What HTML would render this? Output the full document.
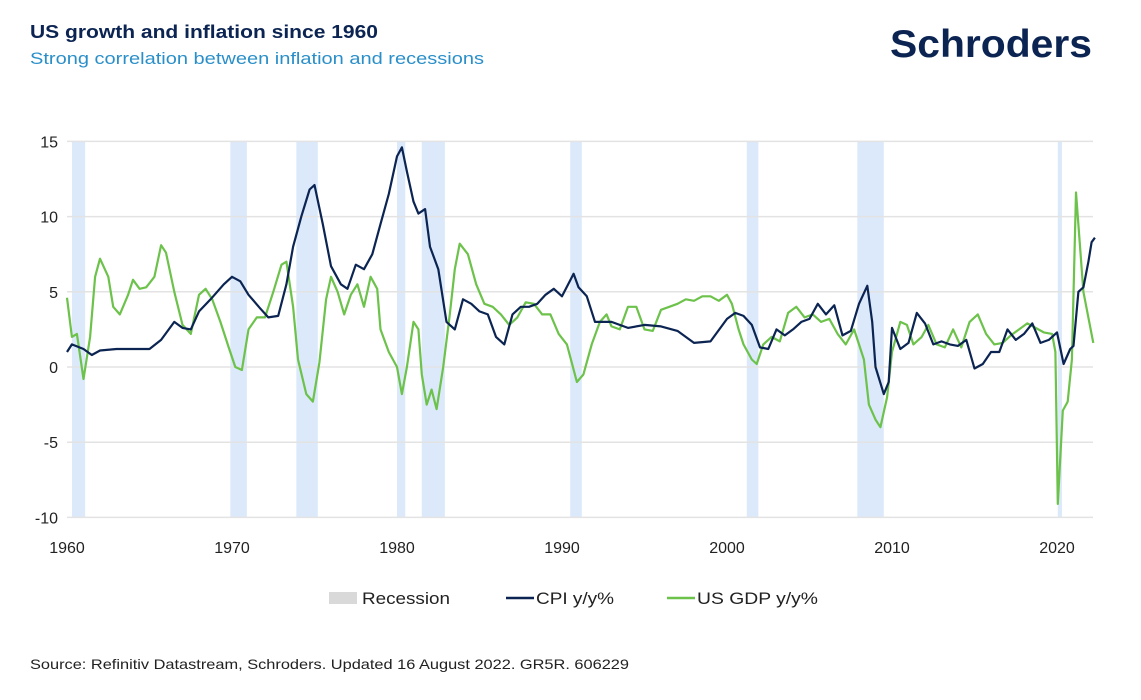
<!DOCTYPE html>
<html><head><meta charset="utf-8"><style>
body{margin:0;background:#fff;font-family:"Liberation Sans",sans-serif;}
svg text{font-family:"Liberation Sans",sans-serif;}
</style></head><body>
<svg id="chart" width="1141" height="695" viewBox="0 0 1141 695" xmlns="http://www.w3.org/2000/svg">
<text x="30" y="38" font-size="18" font-weight="bold" fill="#0b2452" textLength="348" lengthAdjust="spacingAndGlyphs">US growth and inflation since 1960</text>
<text x="30" y="64" font-size="17" fill="#2a8fc9" textLength="454" lengthAdjust="spacingAndGlyphs">Strong correlation between inflation and recessions</text>
<text x="890" y="57" font-size="39" font-weight="bold" fill="#0b2452" textLength="202" lengthAdjust="spacingAndGlyphs">Schroders</text>
<g id="bands"></g><g id="grid"></g><g id="lines"></g><g id="axes"></g>
<g>
<rect x="329" y="592" width="28" height="12" fill="#d9d9d9"/>
<text x="362" y="604" font-size="17" fill="#222" textLength="88" lengthAdjust="spacingAndGlyphs">Recession</text>
<line x1="506" y1="598" x2="534" y2="598" stroke="#0b2452" stroke-width="2.5"/>
<text x="536" y="604" font-size="17" fill="#222" textLength="78" lengthAdjust="spacingAndGlyphs">CPI y/y%</text>
<line x1="667" y1="598" x2="695" y2="598" stroke="#6cc24a" stroke-width="2.5"/>
<text x="697" y="604" font-size="17" fill="#222" textLength="121" lengthAdjust="spacingAndGlyphs">US GDP y/y%</text>
</g>
<text x="30" y="669" font-size="14" fill="#222" textLength="599" lengthAdjust="spacingAndGlyphs">Source: Refinitiv Datastream, Schroders. Updated 16 August 2022. GR5R. 606229</text>
</svg>
<script>
const recStart=[1960.3,1969.9,1973.9,1980.0,1981.5,1990.5,2001.2,2007.9,2020.05];
const recEnd=[1961.1,1970.9,1975.2,1980.5,1982.9,1991.2,2001.9,2009.5,2020.3];
const yTicks=[15,10,5,0,-5,-10];
const xTicks=[1960,1970,1980,1990,2000,2010,2020];
const cpiYears=[1960,1960.3,1961,1961.5,1962,1963,1964,1965,1965.7,1966.5,1967,1967.5,1968,1968.7,1969.5,1970,1970.5,1971,1971.7,1972.2,1972.8,1973.3,1973.7,1974.2,1974.7,1975.0,1975.5,1976,1976.6,1977,1977.5,1978,1978.5,1979,1979.5,1980,1980.3,1980.6,1981,1981.3,1981.7,1982,1982.5,1983,1983.5,1984,1984.5,1985,1985.5,1986,1986.5,1987,1987.5,1988,1988.5,1989,1989.5,1990,1990.7,1991,1991.5,1992,1993,1994,1995,1996,1997,1998,1999,2000,2000.5,2001,2001.5,2002,2002.5,2003,2003.5,2004,2004.5,2005,2005.5,2006,2006.5,2007,2007.5,2008,2008.5,2008.8,2009,2009.5,2009.8,2010,2010.5,2011,2011.5,2012,2012.5,2013,2013.5,2014,2014.5,2015,2015.5,2016,2016.5,2017,2017.5,2018,2018.5,2019,2019.5,2020,2020.4,2020.8,2021,2021.3,2021.6,2021.9,2022.1,2022.3];
const cpiVals=[1.0,1.5,1.2,0.8,1.1,1.2,1.2,1.2,1.8,3.0,2.6,2.5,3.7,4.5,5.5,6.0,5.7,4.8,3.9,3.3,3.4,5.5,8.0,10.0,11.8,12.1,9.5,6.7,5.5,5.2,6.8,6.5,7.5,9.5,11.5,14.0,14.6,13.0,11.0,10.2,10.5,8.0,6.5,3.0,2.5,4.5,4.2,3.7,3.5,2.0,1.5,3.5,4.0,4.0,4.2,4.8,5.2,4.7,6.2,5.3,4.7,3.0,3.0,2.6,2.8,2.7,2.4,1.6,1.7,3.2,3.6,3.4,2.8,1.3,1.2,2.5,2.1,2.5,3.0,3.2,4.2,3.5,4.1,2.1,2.4,4.2,5.4,3.0,0.0,-1.8,-1.0,2.6,1.2,1.6,3.6,2.9,1.5,1.7,1.5,1.4,1.8,-0.1,0.2,1.0,1.0,2.5,1.8,2.2,2.9,1.6,1.8,2.3,0.2,1.2,1.4,5.0,5.3,7.0,8.3,8.6];
const gdpYears=[1960,1960.3,1960.6,1961,1961.4,1961.7,1962,1962.5,1962.8,1963.2,1963.7,1964,1964.4,1964.8,1965.3,1965.7,1966,1966.5,1967,1967.5,1968,1968.4,1968.8,1969.3,1969.8,1970.2,1970.6,1971,1971.5,1972,1972.5,1973,1973.3,1973.7,1974,1974.5,1974.9,1975.3,1975.7,1976,1976.4,1976.8,1977.2,1977.6,1978,1978.4,1978.8,1979,1979.5,1980,1980.3,1980.6,1981,1981.3,1981.5,1981.8,1982.1,1982.4,1982.8,1983.2,1983.5,1983.8,1984.3,1984.8,1985.3,1985.8,1986.3,1986.8,1987.3,1987.8,1988.3,1988.8,1989.3,1989.8,1990.3,1990.9,1991.3,1991.8,1992.3,1992.7,1993,1993.5,1994,1994.5,1995,1995.5,1996,1996.5,1997,1997.5,1998,1998.5,1999,1999.5,2000,2000.3,2000.7,2001,2001.5,2001.8,2002.2,2002.7,2003.2,2003.7,2004.2,2004.7,2005.2,2005.7,2006.2,2006.7,2007.2,2007.7,2008,2008.3,2008.6,2009,2009.3,2009.7,2010,2010.5,2010.9,2011.3,2011.8,2012.2,2012.7,2013.2,2013.7,2014.2,2014.7,2015.2,2015.7,2016.2,2016.7,2017.2,2017.7,2018.2,2018.7,2019.2,2019.7,2019.9,2020.05,2020.35,2020.65,2020.9,2021.15,2021.6,2022.2];
const gdpVals=[4.6,2.0,2.2,-0.8,2.0,6.0,7.2,6.0,4.0,3.5,4.8,5.8,5.2,5.3,6.0,8.1,7.6,5.0,2.8,2.2,4.8,5.2,4.5,3.0,1.3,0.0,-0.2,2.5,3.3,3.3,5.0,6.8,7.0,4.0,0.5,-1.8,-2.3,0.3,4.5,6.0,5.0,3.5,4.8,5.5,4.0,6.0,5.2,2.5,1.0,0.0,-1.8,0.0,3.0,2.5,-0.5,-2.5,-1.5,-2.8,0.0,3.5,6.5,8.2,7.5,5.5,4.2,4.0,3.5,2.8,3.3,4.3,4.2,3.5,3.5,2.2,1.5,-1.0,-0.5,1.5,3.0,3.5,2.7,2.5,4.0,4.0,2.5,2.4,3.8,4.0,4.2,4.5,4.4,4.7,4.7,4.4,4.8,4.2,2.5,1.5,0.5,0.2,1.5,2.0,1.7,3.6,4.0,3.3,3.5,3.0,3.2,2.2,1.5,2.5,1.5,0.5,-2.5,-3.5,-4.0,-2.0,1.0,3.0,2.8,1.5,2.0,2.8,1.5,1.3,2.5,1.3,3.0,3.5,2.2,1.5,1.6,2.1,2.5,2.9,2.6,2.3,2.2,1.0,-9.1,-2.9,-2.3,0.5,11.6,5.0,1.6];

const NS='http://www.w3.org/2000/svg';
const X=yr=>67+(yr-1960)*16.5;
const Y=v=>367-v*15.04;
const left=67,right=1093;
function mk(tag,attrs,parent){const e=document.createElementNS(NS,tag);for(const k in attrs)e.setAttribute(k,attrs[k]);document.getElementById(parent).appendChild(e);return e;}
recStart.forEach((s,i)=>{
  const r=mk('rect',{x:X(s),y:Y(15),width:X(recEnd[i])-X(s),height:Y(-10)-Y(15),fill:'#dbe9fa'},'bands');
  
  
});
yTicks.forEach(t=>{
  const l=mk('line',{x1:left,x2:right,y1:Y(t),y2:Y(t),stroke:'#e3e3e3','stroke-width':1.5},'grid');
  
  
  const tx=mk('text',{x:58,y:Y(t)+6,'font-size':16,fill:'#222','text-anchor':'end'},'axes');
  tx.textContent=t;
  
  
});
xTicks.forEach(t=>{
  const tx=mk('text',{x:X(t),y:553,'font-size':16,fill:'#222','text-anchor':'middle'},'axes');
  tx.textContent=t;
  
  
});
function line(xs,vs,color,name){
  const d=xs.map((x,i)=>(i?'L':'M')+X(x).toFixed(1)+','+Y(vs[i]).toFixed(1)).join('');
  const p=mk('path',{d:d,fill:'none',stroke:color,'stroke-width':2.2,'stroke-linejoin':'round'},'lines');
  
  
}
line(gdpYears,gdpVals,'#6cc24a','gdp-line');
line(cpiYears,cpiVals,'#0b2452','cpi-line');
</script>
</body></html>
